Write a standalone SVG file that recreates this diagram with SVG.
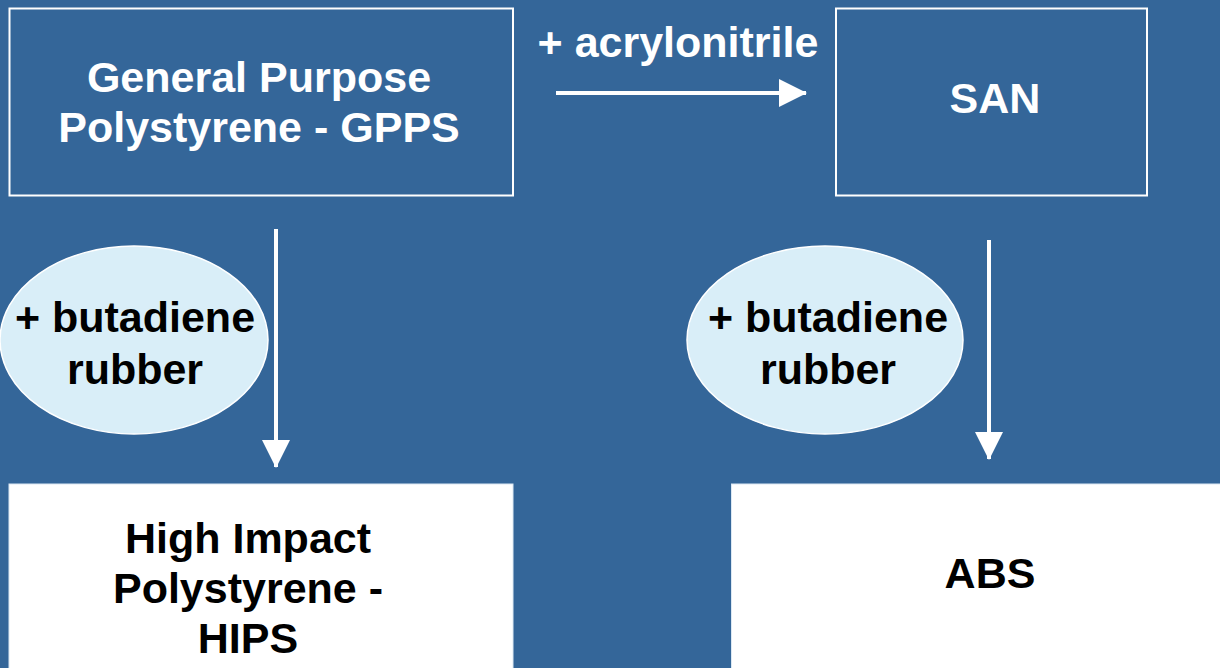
<svg xmlns="http://www.w3.org/2000/svg" width="1220" height="668" viewBox="0 0 1220 668">
<style>
.t{font-family:"Liberation Sans",Arial,sans-serif;font-weight:bold;font-size:43px;text-anchor:middle}
.w{fill:#ffffff}
.k{fill:#000000}
.box{fill:none;stroke:#ffffff;stroke-width:2}
.wbox{fill:#ffffff;stroke:#dbe8f3;stroke-width:1}
.ell{fill:#d9eef8;stroke:#ffffff;stroke-width:1.5}
.conn{stroke:#ffffff;stroke-width:4;fill:none}
</style>
<defs>
<marker id="ah" markerUnits="userSpaceOnUse" markerWidth="28" markerHeight="28" viewBox="0 0 28 28" refX="27" refY="14" orient="auto">
<path d="M0,0 L28,14 L0,28 Z" fill="#ffffff"/>
</marker>
</defs>
<rect x="0" y="0" width="1220" height="668" fill="#346699"/>
<g id="gpps">
<rect class="box" x="9.5" y="8.5" width="503.5" height="187"/>
<text class="t w" x="259" y="92">General Purpose</text>
<text class="t w" x="259" y="142">Polystyrene - GPPS</text>
</g>
<g id="san">
<rect class="box" x="836" y="8.5" width="311" height="187"/>
<text class="t w" x="995" y="113">SAN</text>
</g>
<g id="rubber1">
<ellipse class="ell" cx="134" cy="340" rx="134" ry="94"/>
<text class="t k" x="135" y="332">+ butadiene</text>
<text class="t k" x="135" y="384">rubber</text>
</g>
<g id="rubber2">
<ellipse class="ell" cx="825" cy="340" rx="138" ry="94"/>
<text class="t k" x="828" y="332">+ butadiene</text>
<text class="t k" x="828" y="384">rubber</text>
</g>
<g id="hips">
<rect class="wbox" x="9" y="484" width="504" height="200"/>
<text class="t k" x="248" y="553">High Impact</text>
<text class="t k" x="248" y="603">Polystyrene -</text>
<text class="t k" x="248" y="653">HIPS</text>
</g>
<g id="abs">
<rect class="wbox" x="731.5" y="484" width="520" height="200"/>
<text class="t k" x="990" y="588">ABS</text>
</g>
<g id="connectors">
<line class="conn" x1="556" y1="93" x2="806" y2="93" marker-end="url(#ah)"/>
<line class="conn" x1="276" y1="229" x2="276" y2="467" marker-end="url(#ah)"/>
<line class="conn" x1="989" y1="240" x2="989" y2="459" marker-end="url(#ah)"/>
<text class="t w" x="678" y="57">+ acrylonitrile</text>
</g>
</svg>
